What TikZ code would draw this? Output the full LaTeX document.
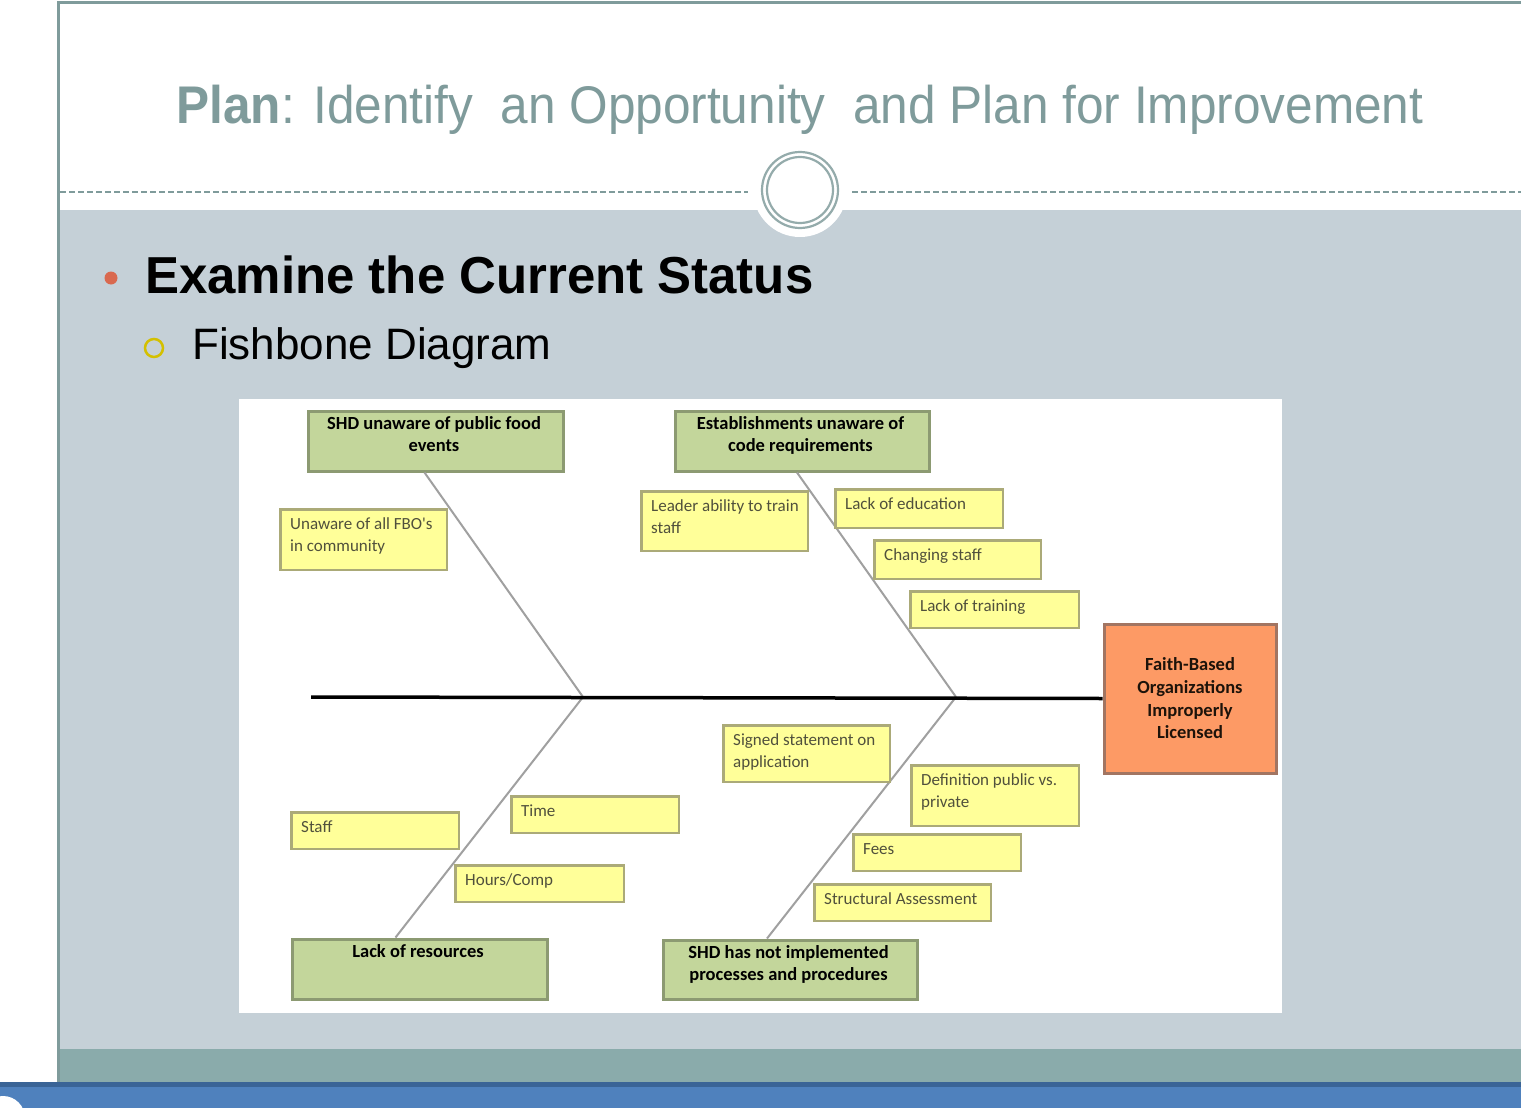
\documentclass[tikz,border=0pt]{standalone}
\usepackage{fontspec}
\setmainfont{Liberation Sans}
\newfontfamily\titlefont[FakeStretch=0.935]{Liberation Sans}
\newfontfamily\headfont[FakeStretch=0.98]{Liberation Sans}
\newfontfamily\diafont{Carlito}
\definecolor{framec}{HTML}{7F9B9B}
\definecolor{bodyc}{HTML}{C5D0D7}
\definecolor{tealc}{HTML}{8AABAB}
\definecolor{bluec}{HTML}{4F81BD}
\definecolor{bluedark}{HTML}{3A6496}
\definecolor{ringc}{HTML}{94ABAB}
\definecolor{bulletred}{HTML}{D9694F}
\definecolor{bulletyel}{HTML}{D4C000}
\definecolor{gfill}{HTML}{C3D69B}
\definecolor{gborder}{HTML}{8C9A72}
\definecolor{yfill}{HTML}{FFFF99}
\definecolor{yborder}{HTML}{ABAA78}
\definecolor{ytextc}{HTML}{50503C}
\definecolor{ofill}{HTML}{FD9A65}
\definecolor{oborder}{HTML}{A27562}
\definecolor{bonec}{HTML}{A0A0A0}
\tikzset{
  ybox/.style={draw=yborder, fill=yfill, line width=2.5, inner sep=0, anchor=north west},
  gbox/.style={draw=gborder, fill=gfill, line width=3, inner sep=0, anchor=north west},
  ytext/.style={anchor=base west, inner sep=0, text=ytextc, font=\diafont\fontsize{17}{22}\selectfont},
  gtext/.style={anchor=base, inner sep=0, text=black, font=\diafont\bfseries\fontsize{18.5}{22}\selectfont},
  bone/.style={draw=bonec, line width=2},
  spine/.style={draw=black, line width=3.5},
  ringline/.style={draw=ringc, line width=2.2},
}
\newcommand\ybx[6]{%
  \node[ybox, minimum width={#4-#2-2.5}, minimum height={#5-#3-2.5}] (#1) at ({#2+1.25},{#3+1.25}) {};
  \node[ytext] (#1t) at ({#2+12},{#3+22}) {\begin{tabular}[t]{@{}l@{}}#6\end{tabular}};}
\newcommand\gbx[6]{%
  \node[gbox, minimum width={#4-#2-3}, minimum height={#5-#3-3}] (#1) at ({#2+1.5},{#3+1.5}) {};
  \node[gtext] (#1t) at ({(#2+#4)/2},{#3+21}) {\begin{tabular}[t]{@{}c@{}}#6\end{tabular}};}
\begin{document}
\begin{tikzpicture}[x=1pt,y=-1pt]
\useasboundingbox (0,0) rectangle (1521,1108);
\fill[white] (0,0) rectangle (1521,1108);
% slide body and bands
\fill[bodyc] (59,210) rectangle (1521,1049);
\fill[tealc] (59,1049) rectangle (1521,1082);
\fill[bluec] (0,1082) rectangle (1521,1108);
\fill[bluedark] (0,1082) rectangle (1521,1087);
\fill[white] (3,1118) circle (22);
% frame
\draw[framec, line width=3] (58,1082) -- (58,3) -- (1521,3);
\draw[framec, line width=2, dash pattern=on 6 off 3] (60,192) -- (748,192);
\draw[framec, line width=2, dash pattern=on 6 off 3] (852,192) -- (1521,192);
% circle ornament
\fill[white] (800,190) circle (47);
\draw[ringline] (800,190) circle (38);
\draw[ringline] (800,190) circle (33);
% title
\node[anchor=base, inner sep=0, text=framec] (title) at (800,123)
  {\titlefont\fontsize{53}{60}\selectfont\textbf{Plan}: Identify\ \ an Opportunity\ \ and Plan for Improvement};
% bullets
\node[circle, fill=bulletred, minimum size=13, inner sep=0] (b1) at (111,278) {};
\node[anchor=base west, inner sep=0] (h1) at (145,293)
  {\headfont\bfseries\fontsize{52}{60}\selectfont Examine the Current Status};
\node[circle, draw=bulletyel, line width=2.5, minimum size=18, inner sep=0] (b2) at (154,348) {};
\node[anchor=base west, inner sep=0] (h2) at (192,359)
  {\fontsize{44}{50}\selectfont Fishbone Diagram};
% diagram panel
\fill[white] (239,399) rectangle (1282,1013);
% head
\node[draw=oborder, fill=ofill, line width=3, inner sep=0, anchor=north west,
  minimum width=172, minimum height=149, align=center, text=black!85!brown,
  font=\diafont\bfseries\fontsize{18.5}{22.7}\selectfont] (head) at (1102.5,622.5)
  {Faith-Based\\Organizations\\Improperly\\Licensed};
% green category boxes
\gbx{g1}{305}{408}{563}{471}{SHD unaware of public food\\events}
\gbx{g2}{672}{408}{929}{471}{Establishments unaware of\\code requirements}
\gbx{g3}{289}{936}{547}{999}{Lack of resources}
\gbx{g4}{660}{937}{917}{999}{SHD has not implemented\\processes and procedures}
% spine and bones
\coordinate (tail) at (311,697);
\coordinate (j1) at (583,697);
\coordinate (j2) at (956,697);
\draw[bone] ([xshift=-11]g1.south) -- (j1);
\draw[bone] ([xshift=-5]g2.south) -- (j2);
\draw[bone] (j1) -- ([xshift=-24]g3.north);
\draw[bone] (j2) -- ([xshift=-23]g4.north);
\draw[spine] (tail) -- (head.west);
% yellow cause boxes
\ybx{y1}{278}{507}{447}{570}{Unaware of all FBO's\\in community}
\ybx{y2}{639}{489}{808}{551}{Leader ability to train\\staff}
\ybx{y3}{833}{487}{1003}{528}{Lack of education}
\ybx{y4}{872}{538}{1041}{579}{Changing staff}
\ybx{y5}{908}{589}{1079}{628}{Lack of training}
\ybx{y6}{721}{723}{890}{782}{Signed statement on\\application}
\ybx{y7}{909}{763}{1079}{826}{Definition public vs.\\private}
\ybx{y8}{851}{832}{1021}{871}{Fees}
\ybx{y9}{812}{882}{991}{921}{Structural Assessment}
\ybx{y10}{289}{810}{459}{849}{Staff}
\ybx{y11}{509}{794}{679}{833}{Time}
\ybx{y12}{453}{863}{624}{902}{Hours/Comp}
\end{tikzpicture}
\end{document}
